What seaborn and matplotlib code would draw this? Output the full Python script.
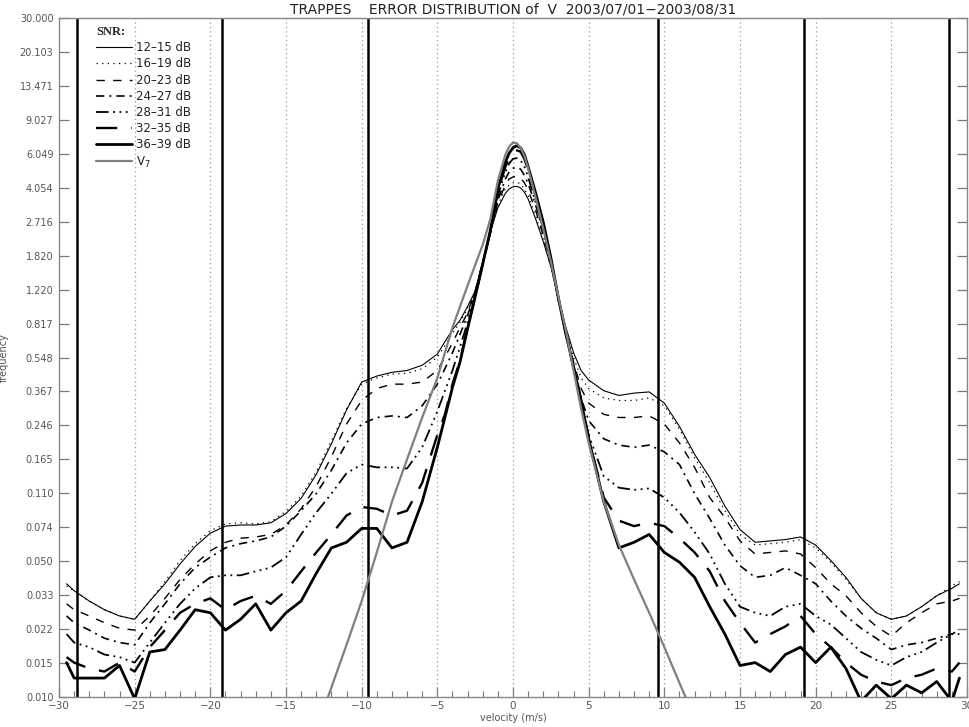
import numpy as np
import pandas as pd
import matplotlib
matplotlib.use("Agg")
import matplotlib.pyplot as plt
import seaborn as sns
from matplotlib.lines import Line2D

nan = np.nan

velocity = ([-29.5] + list(range(-29, -5)) +
            [-5, -4.5, -4, -3.5, -3, -2.5, -2, -1.5, -1, -0.5, -0.25, 0, 0.25, 0.5, 0.75,
             1, 1.5, 2, 2.5, 3, 3.5, 4, 4.5, 5] +
            list(range(6, 30)) + [29.5])

snr_12_15 = [0.038, 0.035, 0.031, 0.028, 0.026, 0.025, 0.031, 0.038, 0.048, 0.059, 0.069, 0.075, 0.076, 0.076, 0.078, 0.087, 0.104, 0.138, 0.198, 0.295, 0.41, 0.44, 0.46, 0.47, 0.50,
             0.57, 0.66, 0.76, 0.85, 1.0, 1.2, 1.7, 2.4, 3.2, 3.8, 4.0, 4.1, 4.12, 4.05, 3.85,
             3.55, 2.8, 2.15, 1.6, 1.1, 0.78, 0.58, 0.47, 0.42,
             0.37, 0.35, 0.36, 0.365, 0.32, 0.243, 0.175, 0.133, 0.095, 0.072, 0.062, 0.063, 0.064, 0.066, 0.060, 0.050, 0.041, 0.032, 0.027, 0.025, 0.026, 0.029, 0.033, 0.036, 0.038]
snr_16_19 = [0.037, 0.035, 0.031, 0.028, 0.026, 0.025, 0.031, 0.039, 0.050, 0.061, 0.071, 0.077, 0.078, 0.077, 0.079, 0.089, 0.107, 0.142, 0.205, 0.30, 0.40, 0.43, 0.45, 0.455, 0.48,
             0.55, 0.63, 0.73, 0.83, 0.98, 1.2, 1.7, 2.4, 3.3, 4.0, 4.2, 4.3, 4.32, 4.25, 4.0,
             3.7, 2.9, 2.2, 1.6, 1.1, 0.75, 0.55, 0.43, 0.38,
             0.34, 0.33, 0.33, 0.34, 0.31, 0.235, 0.168, 0.125, 0.09, 0.068, 0.06, 0.061, 0.062, 0.064, 0.058, 0.049, 0.040, 0.032, 0.027, 0.025, 0.026, 0.029, 0.033, 0.037, 0.039]
snr_20_23 = [0.030, 0.028, 0.026, 0.024, 0.0225, 0.022, 0.026, 0.032, 0.040, 0.048, 0.056, 0.062, 0.065, 0.066, 0.068, 0.076, 0.092, 0.12, 0.17, 0.25, 0.33, 0.38, 0.40, 0.40, 0.41,
             0.47, 0.55, 0.65, 0.78, 0.93, 1.2, 1.68, 2.4, 3.4, 4.2, 4.5, 4.6, 4.65, 4.55, 4.3,
             3.95, 3.1, 2.3, 1.65, 1.1, 0.74, 0.52, 0.38, 0.32,
             0.28, 0.27, 0.27, 0.275, 0.25, 0.20, 0.15, 0.105, 0.083, 0.063, 0.054, 0.055, 0.056, 0.054, 0.046, 0.038, 0.033, 0.027, 0.023, 0.0205, 0.024, 0.027, 0.030, 0.031, 0.032]
snr_24_27 = [0.026, 0.024, 0.022, 0.020, 0.019, 0.0185, 0.024, 0.030, 0.038, 0.046, 0.052, 0.058, 0.061, 0.063, 0.066, 0.075, 0.09, 0.11, 0.145, 0.20, 0.25, 0.27, 0.275, 0.27, 0.31,
             0.40, 0.48, 0.58, 0.72, 0.90, 1.18, 1.66, 2.4, 3.5, 4.5, 4.9, 5.1, 5.15, 5.05, 4.7,
             4.25, 3.3, 2.4, 1.7, 1.1, 0.73, 0.50, 0.34, 0.26,
             0.21, 0.195, 0.19, 0.195, 0.18, 0.155, 0.11, 0.082, 0.060, 0.047, 0.041, 0.042, 0.046, 0.042, 0.038, 0.031, 0.026, 0.0225, 0.020, 0.0175, 0.0185, 0.019, 0.020, 0.021, 0.022]
snr_28_31 = [0.021, 0.019, 0.018, 0.0165, 0.016, 0.015, 0.019, 0.024, 0.030, 0.036, 0.041, 0.042, 0.042, 0.044, 0.046, 0.052, 0.068, 0.088, 0.11, 0.14, 0.155, 0.15, 0.15, 0.148, 0.19,
             0.29, 0.37, 0.47, 0.62, 0.83, 1.15, 1.65, 2.4, 3.7, 4.9, 5.4, 5.7, 5.75, 5.6, 5.2,
             4.6, 3.4, 2.5, 1.72, 1.1, 0.72, 0.48, 0.32, 0.22,
             0.135, 0.118, 0.115, 0.117, 0.105, 0.088, 0.07, 0.054, 0.038, 0.029, 0.027, 0.026, 0.029, 0.030, 0.026, 0.0235, 0.020, 0.017, 0.0155, 0.0145, 0.016, 0.017, 0.019, 0.021, 0.021]
snr_32_35 = [0.016, 0.015, 0.014, 0.0135, 0.015, 0.0135, 0.018, 0.022, 0.027, 0.030, 0.032, 0.028, 0.031, 0.033, 0.030, 0.035, 0.044, 0.055, 0.068, 0.085, 0.094, 0.092, 0.085, 0.09, 0.125,
             0.22, 0.28, 0.40, 0.53, 0.78, 1.13, 1.65, 2.4, 3.9, 5.2, 5.8, 6.2, 6.3, 6.2, 5.7,
             5.0, 3.7, 2.6, 1.73, 1.1, 0.72, 0.49, 0.33, 0.21,
             0.105, 0.08, 0.075, 0.078, 0.075, 0.065, 0.055, 0.044, 0.031, 0.024, 0.019, 0.021, 0.023, 0.026, 0.021, 0.018, 0.015, 0.013, 0.012, 0.0115, 0.0125, 0.013, 0.014, 0.0135, 0.015]
snr_36_39 = [0.015, 0.0125, 0.0125, 0.0125, 0.0145, 0.0098, 0.017, 0.0175, 0.022, 0.028, 0.027, 0.022, 0.025, 0.030, 0.022, 0.027, 0.031, 0.043, 0.058, 0.062, 0.073, 0.073, 0.058, 0.062, 0.10,
             0.19, 0.27, 0.385, 0.52, 0.77, 1.12, 1.65, 2.45, 4.0, 5.5, 6.1, 6.5, 6.65, 6.5, 6.0,
             5.2, 3.8, 2.7, 1.78, 1.1, 0.72, 0.49, 0.33, 0.21,
             0.10, 0.058, 0.062, 0.068, 0.055, 0.049, 0.041, 0.029, 0.021, 0.0145, 0.015, 0.0135, 0.0165, 0.018, 0.015, 0.018, 0.014, 0.0095, 0.0115, 0.0098, 0.0115, 0.0105, 0.012, 0.0095, 0.0125]
v7_model = [nan] * 17 + [0.0068, 0.0112, 0.0185, 0.031, 0.055, 0.10, 0.165, 0.27,
             0.43, 0.58, 0.78, 1.0, 1.28, 1.63, 2.07, 2.8, 4.4, 6.0, 6.6, 6.9, 6.85, 6.5, 5.9,
             5.1, 3.6, 2.5, 1.7, 1.12, 0.75, 0.47, 0.30, 0.2,
             0.10, 0.06, 0.04, 0.027, 0.018, 0.0118, 0.0078] + [nan] * 18

series_labels = ["12\u201315 dB", "16\u201319 dB", "20\u201323 dB", "24\u201327 dB",
                 "28\u201331 dB", "32\u201335 dB", "36\u201339 dB", "V$_7$"]
series_values = [snr_12_15, snr_16_19, snr_20_23, snr_24_27, snr_28_31, snr_32_35, snr_36_39, v7_model]

ytick_labels = ["0.010", "0.015", "0.022", "0.033", "0.050", "0.074", "0.110", "0.165", "0.246",
                "0.367", "0.548", "0.817", "1.220", "1.820", "2.716", "4.054", "6.049", "9.027",
                "13.471", "20.103", "30.000"]
xtick_values = [-30, -25, -20, -15, -10, -5, 0, 5, 10, 15, 20, 25, 30]
thick_marks = [-28.8, -19.2, -9.6, 9.6, 19.2, 28.8]
dotted_marks = [-25, -20, -15, -10, -5, 0, 5, 10, 15, 20, 25]

styles = [
    dict(color="black", linewidth=0.8, linestyle="-"),
    dict(color="black", linewidth=0.9, linestyle=(0, (1, 3.5))),
    dict(color="black", linewidth=1.0, linestyle=(0, (6, 6))),
    dict(color="black", linewidth=1.2, linestyle=(0, (5, 3, 1.2, 3))),
    dict(color="black", linewidth=1.3, linestyle=(0, (7, 2.5, 1, 2.5, 1, 2.5, 1, 2.5))),
    dict(color="black", linewidth=1.7, linestyle=(0, (9, 6))),
    dict(color="black", linewidth=2.0, linestyle="-"),
    dict(color="#7f7f7f", linewidth=1.6, linestyle="-"),
]

sns.set_theme(style="white")
plt.rcParams['font.family'] = ['DejaVu Sans']

fig = plt.figure(figsize=(9.7, 7.27), dpi=100)
ax = fig.add_axes([59 / 970, 1 - 697 / 727, 908 / 970, 679 / 727])

for xv in dotted_marks:
    ax.axvline(xv, color="#999999", linewidth=0.9, linestyle=(0, (1, 2.5)), zorder=1)
for xv in thick_marks:
    ax.axvline(xv, color="black", linewidth=1.8, zorder=2)

handles = []
for lab, vals, st in zip(series_labels, series_values, styles):
    df = pd.DataFrame({"velocity": velocity, "frequency": vals}).dropna()
    sns.lineplot(data=df, x="velocity", y="frequency", ax=ax, estimator=None,
                 sort=False, legend=False, zorder=3, **st)
    handles.append(Line2D([0], [0], **st))

ax.set_yscale("log")
ax.set_xlim(-30, 30)
ax.set_ylim(0.01, 30)
ypos = np.geomspace(0.01, 30, len(ytick_labels))
ax.set_yticks(ypos)
ax.set_yticklabels(ytick_labels)
ax.yaxis.set_minor_locator(matplotlib.ticker.NullLocator())
ax.set_xticks(xtick_values)
ax.set_xticklabels([str(v).replace("-", "\u2212") for v in xtick_values])
ax.xaxis.set_minor_locator(matplotlib.ticker.MultipleLocator(1))

ax.tick_params(axis="y", which="major", direction="in", length=7, width=0.9,
               color="#777777", labelsize=7, labelcolor="#555555", right=True, left=True, pad=4)
ax.tick_params(axis="x", which="major", direction="in", length=7, width=0.9,
               color="#777777", labelsize=7.5, labelcolor="#555555", bottom=True, top=False, pad=3)
ax.tick_params(axis="x", which="minor", direction="in", length=4, width=0.8,
               color="#777777", bottom=True, top=False)
for sp in ax.spines.values():
    sp.set_color("#888888")
    sp.set_linewidth(1.0)

ax.set_xlabel("velocity (m/s)", fontsize=7, color="#555555", labelpad=1)
ax.set_ylabel("frequency", fontsize=7, color="#555555")
ax.yaxis.set_label_coords(-0.055, 0.5)
ax.set_title("TRAPPES    ERROR DISTRIBUTION of  V  2003/07/01\u22122003/08/31",
             fontsize=10, color="#222222", pad=3)

leg = ax.legend(handles, series_labels, loc="upper left", bbox_to_anchor=(0.036, 0.995),
                frameon=False, fontsize=8.5, handlelength=3.0, handletextpad=0.35,
                labelspacing=0.27, borderaxespad=0.0, title="SNR:",
                title_fontproperties={"family": "Liberation Serif", "size": 9, "weight": "bold"},
                alignment="left")
for t in leg.get_texts():
    t.set_color("#222222")

fig.savefig("out.png", dpi=100)
